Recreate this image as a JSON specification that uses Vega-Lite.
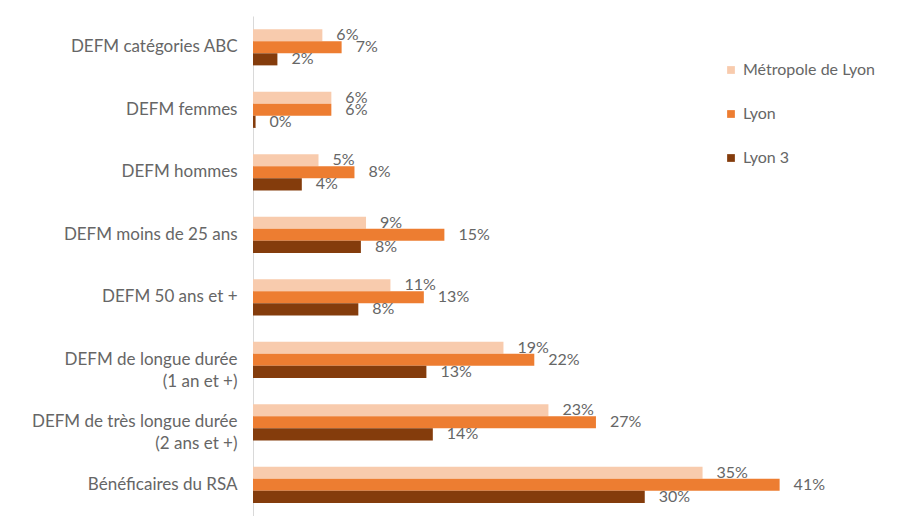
{
  "$schema": "https://vega.github.io/schema/vega-lite/v6.json",
  "width": 578,
  "height": 500,
  "padding": {"left": 5, "top": 16, "right": 0, "bottom": 0},
  "autosize": {"type": "pad"},
  "background": "white",
  "config": {
    "view": {"stroke": null},
    "font": "Lato",
    "axis": {"labelFont": "Lato", "labelColor": "#666666"},
    "legend": {"labelFont": "Lato"}
  },
  "data": {
    "values": [
      {"cat": "DEFM catégories ABC", "serie": "Métropole de Lyon", "v": 5.4, "lab": "6%"},
      {"cat": "DEFM catégories ABC", "serie": "Lyon", "v": 6.9, "lab": "7%"},
      {"cat": "DEFM catégories ABC", "serie": "Lyon 3", "v": 1.9, "lab": "2%"},
      {"cat": "DEFM femmes", "serie": "Métropole de Lyon", "v": 6.1, "lab": "6%"},
      {"cat": "DEFM femmes", "serie": "Lyon", "v": 6.1, "lab": "6%"},
      {"cat": "DEFM femmes", "serie": "Lyon 3", "v": 0.2, "lab": "0%"},
      {"cat": "DEFM hommes", "serie": "Métropole de Lyon", "v": 5.1, "lab": "5%"},
      {"cat": "DEFM hommes", "serie": "Lyon", "v": 7.9, "lab": "8%"},
      {"cat": "DEFM hommes", "serie": "Lyon 3", "v": 3.8, "lab": "4%"},
      {"cat": "DEFM moins de 25 ans", "serie": "Métropole de Lyon", "v": 8.8, "lab": "9%"},
      {"cat": "DEFM moins de 25 ans", "serie": "Lyon", "v": 14.9, "lab": "15%"},
      {"cat": "DEFM moins de 25 ans", "serie": "Lyon 3", "v": 8.4, "lab": "8%"},
      {"cat": "DEFM 50 ans et +", "serie": "Métropole de Lyon", "v": 10.7, "lab": "11%"},
      {"cat": "DEFM 50 ans et +", "serie": "Lyon", "v": 13.3, "lab": "13%"},
      {"cat": "DEFM 50 ans et +", "serie": "Lyon 3", "v": 8.2, "lab": "8%"},
      {"cat": "DEFM de longue durée\n(1 an et +)", "serie": "Métropole de Lyon", "v": 19.5, "lab": "19%"},
      {"cat": "DEFM de longue durée\n(1 an et +)", "serie": "Lyon", "v": 21.9, "lab": "22%"},
      {"cat": "DEFM de longue durée\n(1 an et +)", "serie": "Lyon 3", "v": 13.5, "lab": "13%"},
      {"cat": "DEFM de très longue durée\n(2 ans et +)", "serie": "Métropole de Lyon", "v": 23.0, "lab": "23%"},
      {"cat": "DEFM de très longue durée\n(2 ans et +)", "serie": "Lyon", "v": 26.7, "lab": "27%"},
      {"cat": "DEFM de très longue durée\n(2 ans et +)", "serie": "Lyon 3", "v": 14.0, "lab": "14%"},
      {"cat": "Bénéficaires du RSA", "serie": "Métropole de Lyon", "v": 35.0, "lab": "35%"},
      {"cat": "Bénéficaires du RSA", "serie": "Lyon", "v": 41.0, "lab": "41%"},
      {"cat": "Bénéficaires du RSA", "serie": "Lyon 3", "v": 30.5, "lab": "30%"}
    ]
  },
  "encoding": {
    "y": {
      "field": "cat", "type": "nominal", "sort": null, "title": null,
      "scale": {"paddingInner": 0.42, "paddingOuter": 0.21},
      "axis": {
        "labelExpr": "split(datum.label, '\\n')",
        "labelFontSize": 17, "labelLimit": 260, "ticks": false,
        "labelPadding": 16, "domainColor": "#D9D9D9", "domainWidth": 1,
        "minExtent": 248, "maxExtent": 248, "labelLineHeight": 22
      }
    },
    "yOffset": {"field": "serie", "type": "nominal", "sort": ["Métropole de Lyon", "Lyon", "Lyon 3"], "scale": {"paddingInner": 0, "paddingOuter": 0}},
    "x": {"field": "v", "type": "quantitative", "scale": {"domain": [0, 45], "nice": false}, "axis": null}
  },
  "layer": [
    {
      "mark": {"type": "bar"},
      "encoding": {
        "color": {
          "field": "serie", "type": "nominal", "sort": ["Métropole de Lyon", "Lyon", "Lyon 3"],
          "scale": {"domain": ["Métropole de Lyon", "Lyon", "Lyon 3"], "range": ["#F8CBAD", "#ED7D31", "#843C0C"]},
          "legend": {
            "title": null, "orient": "none", "legendX": 470, "legendY": 46,
            "symbolType": "square", "symbolSize": 60, "labelFontSize": 16,
            "labelColor": "#666666", "rowPadding": 28, "labelOffset": 4
          }
        }
      }
    },
    {
      "mark": {"type": "text", "align": "left", "baseline": "middle", "dx": 14, "fontSize": 16, "color": "#666666"},
      "encoding": {"text": {"field": "lab"}}
    }
  ]
}
